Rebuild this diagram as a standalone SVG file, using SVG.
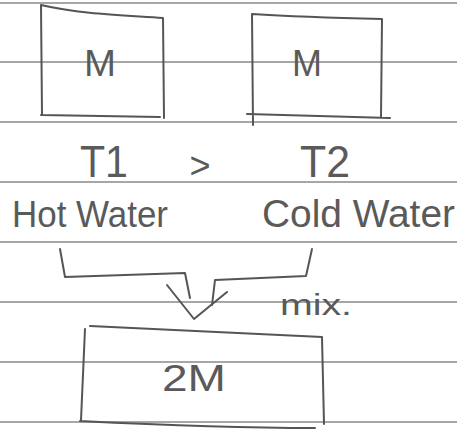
<svg xmlns="http://www.w3.org/2000/svg" width="457" height="431" viewBox="0 0 457 431">
<style>
.rule{stroke:#8a8a8a;stroke-width:1.3;fill:none}
.ink{stroke:#555;stroke-width:2;fill:none;stroke-linecap:round;stroke-linejoin:round}
.t{font-family:"Liberation Sans",Arial,sans-serif;fill:#5a5a5a;}
</style>
<rect width="457" height="431" fill="#fff"/>
<g id="rules">
<line class="rule" x1="0" y1="3" x2="457" y2="3"/>
<line class="rule" x1="0" y1="62" x2="457" y2="62"/>
<line class="rule" x1="0" y1="122" x2="457" y2="122"/>
<line class="rule" x1="0" y1="182" x2="457" y2="182"/>
<line class="rule" x1="0" y1="242" x2="457" y2="242"/>
<line class="rule" x1="0" y1="302" x2="457" y2="302"/>
<line class="rule" x1="0" y1="362" x2="457" y2="362"/>
<line class="rule" x1="0" y1="422" x2="457" y2="422"/>
</g>
<g id="box-hot">
<path class="ink" d="M41,5 L42,115 M41,5 C80,14 120,15 163,18 L164,118 M41,115 L160,117"/>
<text class="t" x="100" y="76" font-size="36" text-anchor="middle" textLength="32" lengthAdjust="spacingAndGlyphs">M</text>
</g>
<g id="box-cold">
<path class="ink" d="M252,14 L253,125 M252,14 C300,17 340,18 382,19 L381,117 M247,114 L390,118"/>
<text class="t" x="307" y="76" font-size="36" text-anchor="middle" textLength="30" lengthAdjust="spacingAndGlyphs">M</text>
</g>
<g id="temps">
<text class="t" x="80" y="177" font-size="44" textLength="48" lengthAdjust="spacingAndGlyphs">T1</text>
<text class="t" x="200" y="178" font-size="36" text-anchor="middle">&gt;</text>
<text class="t" x="300" y="177" font-size="44" textLength="50" lengthAdjust="spacingAndGlyphs">T2</text>
</g>
<g id="label-hot">
<text class="t" x="12" y="227" font-size="36" textLength="156" lengthAdjust="spacingAndGlyphs">Hot Water</text>
</g>
<g id="label-cold">
<text class="t" x="262" y="227" font-size="38" textLength="193" lengthAdjust="spacingAndGlyphs">Cold Water</text>
</g>
<g id="connectors">
<path class="ink" d="M60,249 L65,277 L185,273 L190,298"/>
<path class="ink" d="M312,249 L306,276 L215,280 L212,305"/>
<path class="ink" d="M167,285 L194,319 L227,292"/>
</g>
<text class="t" x="280" y="315" font-size="30" textLength="72" lengthAdjust="spacingAndGlyphs">mix.</text>
<g id="box-mixed">
<path class="ink" d="M90,326 C180,330 260,334 322,337 L324,424 M85,329 L81,420 M80,421 C160,425 240,428 315,428"/>
<text class="t" x="194" y="391" font-size="36" text-anchor="middle" textLength="64" lengthAdjust="spacingAndGlyphs">2M</text>
</g>
</svg>
